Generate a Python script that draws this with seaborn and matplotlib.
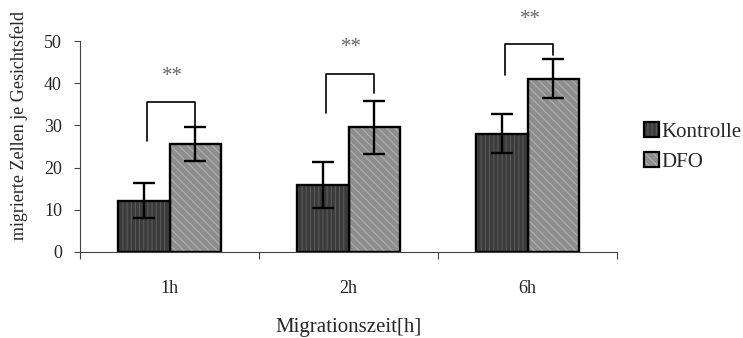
import pandas as pd
import numpy as np
import seaborn as sns
import matplotlib.pyplot as plt
from matplotlib.patches import Patch, Rectangle
from matplotlib.legend_handler import HandlerTuple

zeiten = ["1h", "2h", "6h"]
gruppen = ["Kontrolle", "DFO"]
kontrolle = [12.2, 15.9, 28.0]
kontrolle_err = [4.2, 5.5, 4.6]
dfo = [25.6, 29.6, 41.1]
dfo_err = [4.1, 6.3, 4.6]

# significance brackets (y values in data units)
klammer_oben = [35.6, 42.2, 49.3]
klammer_links = [26.4, 33.0, 41.9]
klammer_rechts = [29.7, 37.7, 46.8]
stern_y = [41.5, 48.4, 55.0]
stern_text = ["**", "**", "**"]

df = pd.DataFrame({
    "Zeit": zeiten * 2,
    "Gruppe": ["Kontrolle"] * 3 + ["DFO"] * 3,
    "Wert": kontrolle + dfo,
    "Fehler": kontrolle_err + dfo_err,
})

sns.set_style("ticks")
plt.rcParams["font.family"] = ["Liberation Serif", "DejaVu Serif"]
plt.rcParams["hatch.linewidth"] = 0.7

fig = plt.figure(figsize=(7.43, 3.38), dpi=100)
ax = fig.add_axes([80 / 743, 86 / 338, 537 / 743, 211 / 338])

farben = {"Kontrolle": "#3b3b3b", "DFO": "#8e8e8e"}
hatch_farben = {"Kontrolle": "#5e5e5e", "DFO": "#b4b4b4"}
hatches = {"Kontrolle": "||||", "DFO": "\\\\\\\\"}

sns.barplot(data=df, x="Zeit", y="Wert", hue="Gruppe", order=zeiten,
            hue_order=gruppen, palette=farben, width=0.57, errorbar=None,
            legend=False, ax=ax, saturation=1)

balken = [p for p in ax.patches if isinstance(p, Rectangle)]
mitten = {}
for i, gruppe in enumerate(gruppen):
    for j in range(len(zeiten)):
        p = balken[i * len(zeiten) + j]
        p.set_hatch(hatches[gruppe])
        p.set_edgecolor(hatch_farben[gruppe])
        p.set_linewidth(0)
        ax.add_patch(Rectangle(p.get_xy(), p.get_width(), p.get_height(),
                               facecolor="none", edgecolor="black",
                               linewidth=1.7, zorder=3))
        mitten[(gruppe, j)] = p.get_x() + p.get_width() / 2

for gruppe, werte, fehler in [("Kontrolle", kontrolle, kontrolle_err), ("DFO", dfo, dfo_err)]:
    xs = [mitten[(gruppe, j)] for j in range(len(zeiten))]
    ax.errorbar(xs, werte, yerr=fehler, fmt="none", ecolor="black",
                elinewidth=1.7, capsize=8, capthick=1.7, zorder=4)

for j in range(len(zeiten)):
    xl = mitten[("Kontrolle", j)] + 0.015
    xr = mitten[("DFO", j)]
    ax.plot([xl, xl, xr, xr], [klammer_links[j], klammer_oben[j], klammer_oben[j], klammer_rechts[j]],
            color="black", lw=1.2, zorder=4, clip_on=False)
    ax.text((xl + xr) / 2 + 0.01, stern_y[j], stern_text[j], ha="center", va="center",
            fontsize=15, color="#666666", clip_on=False)

ax.set_ylim(0, 50)
ax.set_xlim(-0.5, 2.5)
ax.set_yticks(range(0, 51, 10))
ax.set_xticks([-0.5, 0.5, 1.5, 2.5])
ax.set_xticklabels([])
ax.set_xticks([0, 1, 2], minor=True)
ax.set_xticklabels(zeiten, minor=True)
ax.tick_params(axis="x", which="minor", length=0, pad=20, labelsize=13)
ax.tick_params(axis="x", which="major", length=5, width=0.8, color="#444444")
ax.tick_params(axis="y", length=4, width=0.8, color="#444444", labelsize=13, pad=9)
sns.despine(ax=ax)
for s in ["left", "bottom"]:
    ax.spines[s].set_color("#444444")
    ax.spines[s].set_linewidth(0.8)

ax.set_xlabel("Migrationszeit[h]", fontsize=15, labelpad=15)
ax.set_ylabel("migrierte Zellen je Gesichtsfeld", fontsize=13)
ax.yaxis.set_label_coords(-0.097, 0.60)

handles = []
for gruppe in gruppen:
    fuell = Patch(facecolor=farben[gruppe], edgecolor=hatch_farben[gruppe],
                  hatch=hatches[gruppe], linewidth=0)
    rand = Patch(facecolor="none", edgecolor="black", linewidth=1.6)
    handles.append((fuell, rand))
fig.legend(handles, gruppen, handler_map={tuple: HandlerTuple(ndivide=1, pad=0)},
           loc="upper left", bbox_to_anchor=(644 / 743, (338 - 122) / 338),
           frameon=False, fontsize=15, handlelength=0.7, handleheight=0.7,
           handletextpad=0.15, labelspacing=0.5, borderpad=0, borderaxespad=0)

fig.savefig("out.png", dpi=100)
